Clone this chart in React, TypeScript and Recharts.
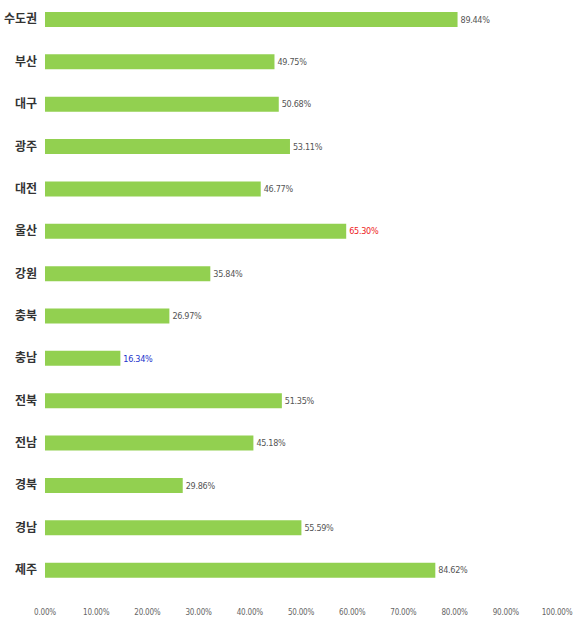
import { BarChart, Bar, XAxis, YAxis, LabelList } from "recharts";

const regions = [
  "수도권", "부산", "대구", "광주", "대전", "울산", "강원",
  "충북", "충남", "전북", "전남", "경북", "경남", "제주",
];
const rates = [
  89.44, 49.75, 50.68, 53.11, 46.77, 65.3, 35.84,
  26.97, 16.34, 51.35, 45.18, 29.86, 55.59, 84.62,
];
const axisTicks = [0, 10, 20, 30, 40, 50, 60, 70, 80, 90, 100];

const data = regions.map((name, i) => ({ name, rate: rates[i] }));

const narrow = "'Liberation Sans Narrow', 'DejaVu Sans Condensed', 'Roboto', sans-serif";

function ValueLabel(props: any) {
  const { x, y, width, height, value, index } = props;
  const name = regions[index];
  let fill = "#555";
  if (name === "울산") fill = "#ee2222";
  if (name === "충남") fill = "#2233cc";
  return (
    <text
      x={x + width + 3}
      y={y + height / 2}
      dy="0.35em"
      fontSize={9}
      letterSpacing={-0.3}
      fontFamily={narrow}
      fill={fill}
      textAnchor="start"
    >
      {Number(value).toFixed(2)}%
    </text>
  );
}

export default function App() {
  return (
    <div style={{ position: "absolute", left: 0, top: 0, background: "#fff" }}>
      <BarChart
        width={575}
        height={623}
        data={data}
        layout="vertical"
        margin={{ top: -2, right: 18, left: 0, bottom: 0 }}
        barCategoryGap={0}
      >
        <XAxis
          xAxisId="pct"
          type="number"
          domain={[0, 100]}
          allowDataOverflow
          ticks={axisTicks}
          interval={0}
          height={32}
          axisLine={false}
          tickLine={false}
          tickMargin={12}
          tickFormatter={(v: number) => `${v.toFixed(2)}%`}
          tick={{ fontSize: 8, letterSpacing: -0.2, fill: "#666", fontFamily: narrow }}
        />
        <XAxis xAxisId="bar" type="number" domain={[0, 111]} height={0} hide />
        <YAxis
          type="category"
          dataKey="name"
          width={45}
          axisLine={false}
          tickLine={false}
          tick={{ fontSize: 12, fill: "#333", fontWeight: 700, fontFamily: "'Noto Sans CJK KR', sans-serif" }}
        />
        <Bar xAxisId="bar" dataKey="rate" fill="#92d050" barSize={15} isAnimationActive={false}>
          <LabelList dataKey="rate" content={<ValueLabel />} />
        </Bar>
      </BarChart>
    </div>
  );
}
